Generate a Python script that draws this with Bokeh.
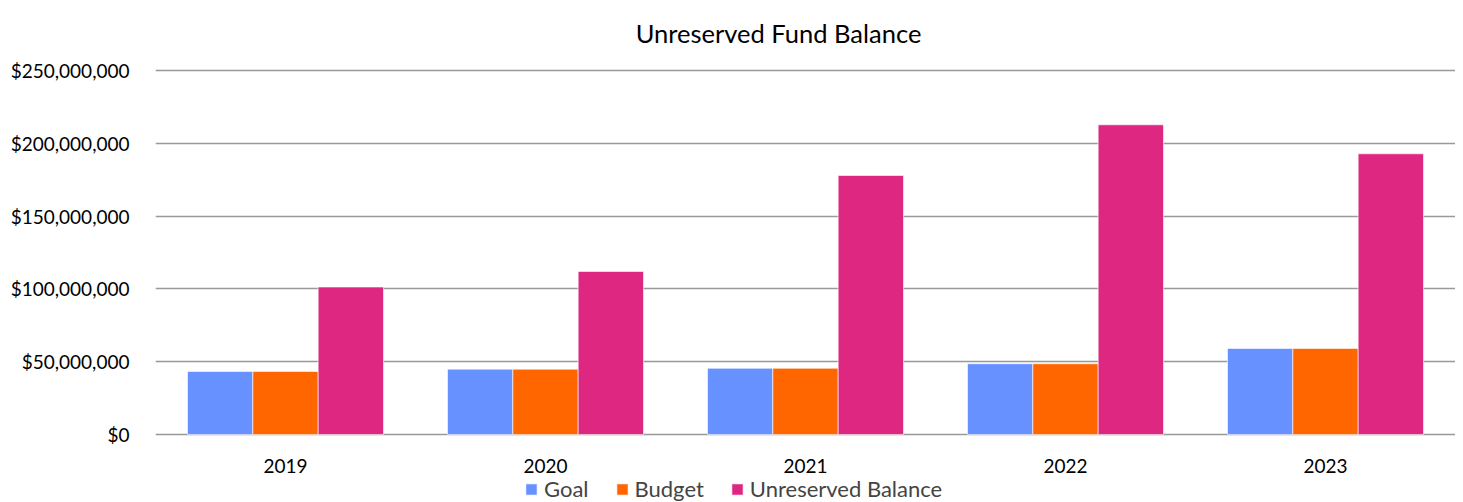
from bokeh.plotting import figure
from bokeh.models import ColumnDataSource, FactorRange, Legend, LegendItem, NumeralTickFormatter, Range1d, Label
from bokeh.transform import dodge
from bokeh.embed import file_html
from bokeh.resources import INLINE
from bokeh.core.properties import value

years = ["2019", "2020", "2021", "2022", "2023"]
goal = [43300000, 44900000, 45500000, 48600000, 59100000]
budget = [43300000, 44900000, 45500000, 48600000, 59100000]
unreserved = [101300000, 112000000, 177900000, 212700000, 192800000]
series_names = ["Goal", "Budget", "Unreserved Balance"]
colors = ["#6691FF", "#FF6600", "#DE2781"]
y_ticks = [0, 50000000, 100000000, 150000000, 200000000, 250000000]
title_text = "Unreserved Fund Balance"

FONT = "Lato"
source = ColumnDataSource(dict(year=years, goal=goal, budget=budget, unreserved=unreserved))

# The frame spans the whole page height; the value axis 0..250M occupies 364 px
# (from y=70 to y=434), leaving room above for the title and below for labels/legend.
Y_MAX = 250000000
PX = Y_MAX / 364.0
y_top = Y_MAX + 70 * PX
y_min = -68 * PX

p = figure(x_range=FactorRange(*years, range_padding=0), y_range=Range1d(y_min, y_top),
           width=1455, height=502, output_backend="svg", toolbar_location=None,
           min_border_left=155, min_border_right=0, min_border_top=0, min_border_bottom=0)
p.outline_line_color = None

title = Label(x=2.5, y=Y_MAX, y_units="data", text=title_text, x_offset=-27, y_offset=38,
              text_align="center", text_baseline="alphabetic",
              text_font=FONT, text_font_size="25.5px", text_color="#000000")
p.add_layout(title)

bw = 0.2513
renderers = []
for i, (field, col) in enumerate(zip(["goal", "budget", "unreserved"], colors)):
    r = p.vbar(x=dodge("year", (i - 1) * bw, range=p.x_range), top=field, width=bw,
               source=source, fill_color=col, line_color="white", line_width=0.6)
    renderers.append(r)

# year labels below the zero line
p.text(x=years, y=0, text=years, y_offset=31, text_align="center", text_baseline="alphabetic",
       text_font=value(FONT), text_font_size="19px", text_color="#000000")
p.xaxis.visible = False

p.yaxis.formatter = NumeralTickFormatter(format="$0,0")
p.yaxis.ticker = y_ticks
ax = p.yaxis[0]
ax.axis_line_color = None
ax.major_tick_line_color = None
ax.minor_tick_line_color = None
ax.major_label_text_font = FONT
ax.major_label_text_font_size = "19px"
ax.major_label_text_color = "#000000"
ax.major_label_standoff = 20

p.xgrid.grid_line_color = None
p.ygrid.ticker = y_ticks
p.ygrid.grid_line_color = "#999999"
p.ygrid.grid_line_width = 1.6

legend = Legend(items=[LegendItem(label=n, renderers=[r]) for n, r in zip(series_names, renderers)],
                orientation="horizontal", location=(369, 0),
                label_text_font=FONT, label_text_font_size="22px",
                glyph_width=14, glyph_height=14, spacing=26, padding=0, margin=0,
                border_line_color=None, background_fill_alpha=0, label_standoff=6)
p.add_layout(legend, "center")

open("out.html", "w").write(file_html(p, INLINE))
